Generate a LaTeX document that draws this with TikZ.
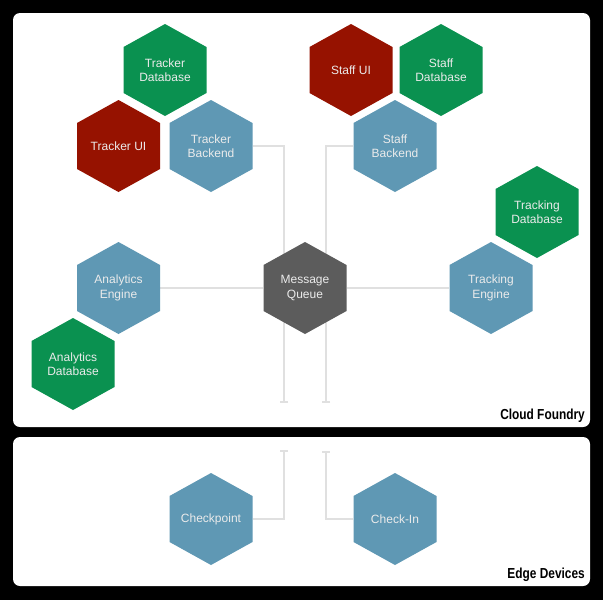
\documentclass[tikz,border=0pt]{standalone}
\usepackage{fontspec}
\setmainfont{Liberation Sans}
\newfontfamily\tagfont[FakeStretch=0.82]{Liberation Sans Bold}
\usetikzlibrary{arrows.meta,backgrounds}
\definecolor{hexgreen}{HTML}{0A9150}
\definecolor{hexred}{HTML}{961200}
\definecolor{hexblue}{HTML}{5F98B4}
\definecolor{hexgray}{HTML}{5C5C5C}
\definecolor{wirecol}{HTML}{E0E0E0}
\tikzset{hexbox/.style={minimum width=83pt, minimum height=92pt, inner sep=0pt, align=center,
      text=white!92!black, font=\fontsize{12}{14.5}\selectfont,
      path picture={\fill[#1] (path picture bounding box.north)
        -- ([yshift=-23pt]path picture bounding box.north east)
        -- ([yshift=23pt]path picture bounding box.south east)
        -- (path picture bounding box.south)
        -- ([yshift=23pt]path picture bounding box.south west)
        -- ([yshift=-23pt]path picture bounding box.north west) -- cycle;}}}
\tikzset{store/.style={hexbox=hexgreen}}
\tikzset{ui/.style={hexbox=hexred}}
\tikzset{service/.style={hexbox=hexblue}}
\tikzset{queue/.style={hexbox=hexgray}}
\tikzset{wire/.style={wirecol, line width=1.3pt}}
\tikzset{capped/.style={wire, -{Bar[width=8pt,line width=1.6pt]}}}
\tikzset{panel/.style={fill=white, rounded corners=7pt}}
\tikzset{tag/.style={anchor=base east, inner sep=0pt, font=\fontsize{14.5}{16}\tagfont}}

\begin{document}
\begin{tikzpicture}[x=1pt,y=-1pt]
    \node[store] (trackerdb) at (165,70) {Tracker\\Database};
    \node[ui] (trackerui) at (118.5,146) {Tracker UI};
    \node[service] (trackerbe) at (211,146) {Tracker\\Backend};
    \node[ui] (staffui) at (351,70) {Staff UI};
    \node[store] (staffdb) at (441,70) {Staff\\Database};
    \node[service] (staffbe) at (395,146) {Staff\\Backend};
    \node[store] (trackingdb) at (537,212) {Tracking\\Database};
    \node[service] (trackingeng) at (491,288) {Tracking\\Engine};
    \node[queue] (queue) at (305,288) {Message\\Queue};
    \node[service] (analyticseng) at (118.5,288) {Analytics\\Engine};
    \node[store] (analyticsdb) at (73,364) {Analytics\\Database};
    \node[service] (checkpoint) at (211,519) {Checkpoint};
    \node[service] (checkin) at (395,519) {Check-In};
    \node[tag] (cloud) at (585,419) {Cloud Foundry};
    \node[tag] (edge) at (585,578) {Edge Devices};
    \coordinate (cloudl) at (284,403);
    \coordinate (cloudr) at (326,403);
    \coordinate (edgel) at (284,450);
    \coordinate (edger) at (326,451);
    \begin{scope}[on background layer]
      \fill[black] (0,0) rectangle (603,600);
      \path[panel] (13,13) rectangle (590,427);
      \path[panel] (13,437) rectangle (590,586);
      \draw[capped] (trackerbe.east) -| (cloudl);
      \draw[capped] (staffbe.west) -| (cloudr);
      \draw[capped] (checkpoint.east) -| (edgel);
      \draw[capped] (checkin.west) -| (edger);
      \draw[wire] (analyticseng.east) -- (queue.west);
      \draw[wire] (queue.east) -- (trackingeng.west);
    \end{scope}
\end{tikzpicture}
\end{document}
